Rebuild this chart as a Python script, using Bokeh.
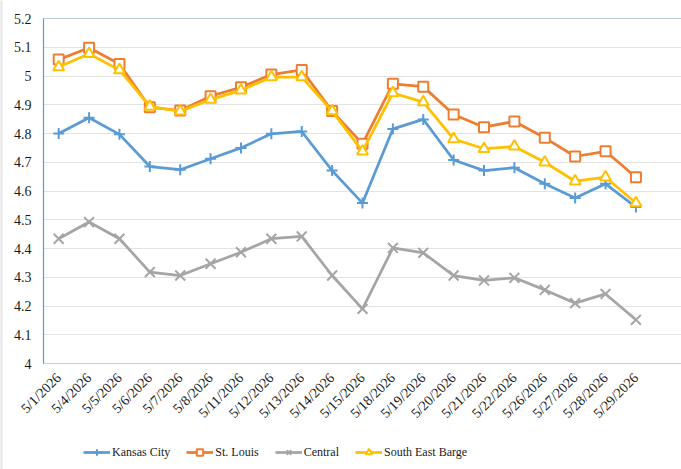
import math
from bokeh.plotting import figure
from bokeh.models import Range1d, FixedTicker, Legend, LegendItem, BoxAnnotation
from bokeh.embed import file_html
from bokeh.resources import INLINE

dates = ["5/1/2026", "5/4/2026", "5/5/2026", "5/6/2026", "5/7/2026", "5/8/2026",
         "5/11/2026", "5/12/2026", "5/13/2026", "5/14/2026", "5/15/2026", "5/18/2026",
         "5/19/2026", "5/20/2026", "5/21/2026", "5/22/2026", "5/26/2026", "5/27/2026",
         "5/28/2026", "5/29/2026"]

kansas_city = [4.80, 4.855, 4.797, 4.685, 4.674, 4.712, 4.75, 4.799, 4.807, 4.671,
               4.558, 4.816, 4.849, 4.708, 4.671, 4.681, 4.625, 4.576, 4.625, 4.544]
st_louis = [5.057, 5.098, 5.042, 4.891, 4.88, 4.93, 4.961, 5.005, 5.021, 4.878,
            4.764, 4.973, 4.963, 4.866, 4.822, 4.842, 4.785, 4.72, 4.738, 4.648]
central = [4.434, 4.492, 4.434, 4.318, 4.306, 4.347, 4.387, 4.434, 4.442, 4.306,
           4.19, 4.402, 4.385, 4.306, 4.289, 4.298, 4.256, 4.21, 4.242, 4.152]
south_east_barge = [5.031, 5.077, 5.021, 4.894, 4.877, 4.918, 4.95, 4.996, 4.996, 4.878,
                    4.738, 4.941, 4.909, 4.781, 4.747, 4.755, 4.70, 4.634, 4.648, 4.558]

y_ticks = [4.0, 4.1, 4.2, 4.3, 4.4, 4.5, 4.6, 4.7, 4.8, 4.9, 5.0, 5.1, 5.2]
y_tick_labels = ["4", "4.1", "4.2", "4.3", "4.4", "4.5", "4.6", "4.7", "4.8", "4.9", "5", "5.1", "5.2"]

x = list(range(len(dates)))
FONT = "'Liberation Serif', 'Times New Roman', serif"
Y0, Y1 = y_ticks[0], y_ticks[-1]
X0, X1 = x[0] - 0.5, x[-1] + 1.5

# pixel scales of the plot area: 30.38 px per category, 287.5 px per unit
PXX, PXY = 30.38, 287.5
xr = Range1d(X0 - 43 / PXX, X1)
yr = Range1d(Y0 - 106 / PXY, Y1 + 18 / PXY)

# frame covers the whole canvas; axes are pinned at the plot-area edges
p = figure(width=681, height=469, output_backend="svg", toolbar_location=None,
           x_range=xr, y_range=yr,
           min_border_left=0, min_border_right=0, min_border_top=0, min_border_bottom=0)

p.background_fill_color = "white"
p.border_fill_color = "white"
p.outline_line_color = None

p.xgrid.grid_line_color = None
p.ygrid.grid_line_color = "#E3E3E3"
p.ygrid.grid_line_width = 1
p.ygrid.ticker = FixedTicker(ticks=y_ticks)

# white cover left of the plot area so gridlines start at the y axis
p.add_layout(BoxAnnotation(left=xr.start - 1, right=X0, bottom=yr.start - 1, top=yr.end + 1,
                           fill_color="white", fill_alpha=1, line_color=None, level="underlay"))
# faint outer chart border on the left edge
p.add_layout(BoxAnnotation(left=xr.start - 1, right=xr.start + 2 / PXX, bottom=yr.start - 1, top=yr.end + 1,
                           fill_color="#E4E4E4", fill_alpha=1, line_color=None, level="underlay"))

p.yaxis.fixed_location = X0
p.yaxis.ticker = FixedTicker(ticks=y_ticks)
p.yaxis.bounds = (Y0, Y1)
p.yaxis.major_label_overrides = {t: l for t, l in zip(y_ticks, y_tick_labels)}
p.yaxis.axis_line_color = "#5B9BD5"
p.yaxis.axis_line_width = 1.2
p.yaxis.major_tick_line_color = None
p.yaxis.major_tick_out = 0
p.yaxis.major_tick_in = 0
p.yaxis.minor_tick_line_color = None
p.yaxis.major_label_standoff = 12
p.yaxis.major_label_text_font = FONT
p.yaxis.major_label_text_font_size = "14px"
p.yaxis.major_label_text_color = "#1a1a1a"

p.xaxis.fixed_location = Y0
p.xaxis.bounds = (X0, X1)
p.xaxis.ticker = FixedTicker(ticks=x)
p.xaxis.major_label_overrides = {i: d for i, d in zip(x, dates)}
p.xaxis.major_label_orientation = math.pi / 4
p.xaxis.axis_line_color = "#D0D0D0"
p.xaxis.major_tick_line_color = None
p.xaxis.major_tick_out = 0
p.xaxis.major_tick_in = 0
p.xaxis.minor_tick_line_color = None
p.xaxis.major_label_standoff = 12
p.xaxis.major_label_text_font = FONT
p.xaxis.major_label_text_font_size = "14px"
p.xaxis.major_label_text_color = "#1a1a1a"

# top border of the plot area
p.add_layout(BoxAnnotation(left=X0, right=X1 + 5, bottom=Y1, top=Y1,
                           fill_alpha=0, line_color="#5B9BD5", line_width=1.2))

LW = 2.75
items = []

l1 = p.line(x, kansas_city, line_color="#5B9BD5", line_width=LW)
s1 = p.scatter(x, kansas_city, marker="cross", size=11, line_color="#5B9BD5", line_width=2)
items.append(LegendItem(label="Kansas City", renderers=[l1, s1]))

l2 = p.line(x, st_louis, line_color="#ED7D31", line_width=LW)
s2 = p.scatter(x, st_louis, marker="square", size=10, line_color="#ED7D31", fill_color="white", line_width=2)
items.append(LegendItem(label="St. Louis", renderers=[l2, s2]))

l3 = p.line(x, central, line_color="#A5A5A5", line_width=LW)
s3 = p.scatter(x, central, marker="x", size=14, line_color="#A5A5A5", line_width=2)
items.append(LegendItem(label="Central", renderers=[l3, s3]))

l4 = p.line(x, south_east_barge, line_color="#FFC000", line_width=LW)
s4 = p.scatter(x, south_east_barge, marker="triangle", size=11, line_color="#FFC000", fill_color="white", line_width=2)
items.append(LegendItem(label="South East Barge", renderers=[l4, s4]))

legend = Legend(items=items, orientation="horizontal", location=(83, 9),
                label_text_font=FONT, label_text_font_size="12px", label_text_color="#1a1a1a",
                glyph_width=27, glyph_height=16, label_standoff=2, spacing=16,
                padding=0, margin=0, border_line_color=None, background_fill_alpha=0,
                label_height=16)
p.add_layout(legend, "center")

open("out.html", "w").write(file_html(p, INLINE))
